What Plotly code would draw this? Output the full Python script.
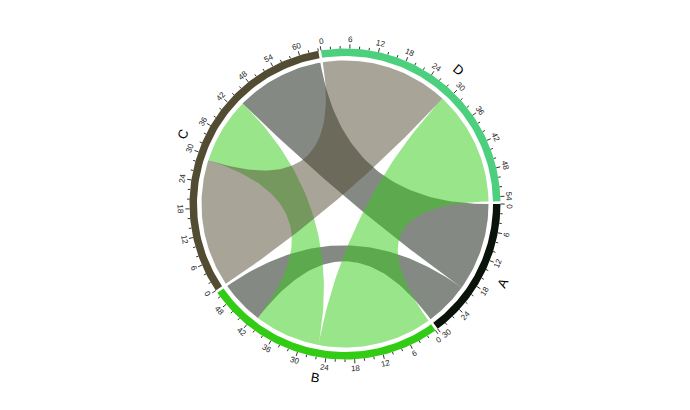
import numpy as np
import plotly.graph_objects as go

# ---- data ----
sectors = ["A", "B", "C", "D"]
sector_colors = ["#0a130a", "#33cc15", "#524c32", "#4dd07e"]
link_from = ["A", "A", "B", "B", "C"]
link_to = ["B", "C", "C", "D", "D"]
link_value = [10, 20, 15, 26, 29]
major_step = 6
minor_step = 2

# ---- layout constants ----
W, H = 690, 410
cx, cy = 345.0, 204.0
r_out, r_in, r_link = 155.5, 148.0, 143.5
gap_deg = 1.0
start_deg = 0.0
tick_font = 8
r_lab = 164.5

n = len(sectors)
idx = {s: i for i, s in enumerate(sectors)}
mat = np.zeros((n, n))
for f, t, v in zip(link_from, link_to, link_value):
    mat[idx[f], idx[t]] += v
    mat[idx[t], idx[f]] += v
totals = mat.sum(axis=1)
deg_per_unit = (360.0 - gap_deg * n) / totals.sum()

sec_start = []
a = start_deg
for i in range(n):
    sec_start.append(a)
    a += totals[i] * deg_per_unit + gap_deg


def pt(theta, r):
    t = np.radians(theta)
    return cx + r * np.cos(t), cy + r * np.sin(t)


def arc(t0, t1, r, k=40):
    ts = np.linspace(t0, t1, k)
    return [pt(t, r) for t in ts]


def bez(p0, p2, k=60):
    c = (cx, cy)
    out = []
    for s in np.linspace(0, 1, k):
        x = (1 - s) ** 2 * p0[0] + 2 * (1 - s) * s * c[0] + s ** 2 * p2[0]
        y = (1 - s) ** 2 * p0[1] + 2 * (1 - s) * s * c[1] + s ** 2 * p2[1]
        out.append((x, y))
    return out


# position of each link end inside sectors: partners in reverse sector order
pos = {}
for i in range(n):
    a = sec_start[i]
    for j in range(n - 1, -1, -1):
        if j == i or mat[i, j] == 0:
            continue
        w = mat[i, j] * deg_per_unit
        pos[(i, j)] = (a, a + w)
        a += w

fig = go.Figure()


def hex_rgba(h, alpha):
    h = h.lstrip("#")
    return "rgba(%d,%d,%d,%.2f)" % (int(h[0:2], 16), int(h[2:4], 16), int(h[4:6], 16), alpha)


# ribbons (drawn in row order)
for f, t, v in zip(link_from, link_to, link_value):
    i, j = idx[f], idx[t]
    s0, s1 = pos[(i, j)]
    t0, t1 = pos[(j, i)]
    pts = arc(s0, s1, r_link) + bez(pt(s1, r_link), pt(t0, r_link)) + \
        arc(t0, t1, r_link) + bez(pt(t1, r_link), pt(s0, r_link))
    xs = [p[0] for p in pts]
    ys = [p[1] for p in pts]
    fig.add_trace(go.Scatter(x=xs, y=ys, mode="lines", fill="toself",
                             fillcolor=hex_rgba(sector_colors[i], 0.5),
                             line=dict(width=0), hoverinfo="skip", showlegend=False))

# sector arcs
for i in range(n):
    a0 = sec_start[i]
    a1 = a0 + totals[i] * deg_per_unit
    pts = arc(a0, a1, r_out, 80) + arc(a1, a0, r_in, 80)
    fig.add_trace(go.Scatter(x=[p[0] for p in pts], y=[p[1] for p in pts], mode="lines",
                             fill="toself", fillcolor=sector_colors[i],
                             line=dict(width=0), hoverinfo="skip", showlegend=False))

# ticks
tx, ty = [], []
annotations = []


def nice_angle(theta):
    th = theta % 360
    if th < 180:
        return th - 90
    return th + 90 - 360


for i in range(n):
    span = totals[i] * deg_per_unit
    for u in range(0, int(totals[i]) + 1, minor_step):
        th = sec_start[i] + u * deg_per_unit
        major = (u % major_step == 0)
        p0 = pt(th, r_out)
        p1 = pt(th, r_out + (4.2 if major else 2.5))
        tx += [p0[0], p1[0], None]
        ty += [p0[1], p1[1], None]
        if major:
            lab = str(u)
            half_deg = np.degrees(0.56 * tick_font * len(lab) / 2 / r_lab)
            off = u * deg_per_unit
            # keep edge labels inside their sector
            if off - half_deg < 0:
                off = half_deg
            if off + half_deg > span:
                off = span - half_deg
            th_l = sec_start[i] + off
            lp = pt(th_l, r_lab)
            annotations.append(dict(x=lp[0], y=lp[1], text=lab, showarrow=False,
                                    textangle=nice_angle(th_l), xanchor="center", yanchor="middle",
                                    font=dict(size=tick_font, color="#222222",
                                              family="Liberation Sans, Arial")))
    mid = sec_start[i] + span / 2
    lp = pt(mid, 176)
    annotations.append(dict(x=lp[0], y=lp[1], text=sectors[i], showarrow=False,
                            textangle=nice_angle(mid), xanchor="center", yanchor="middle",
                            font=dict(size=13, color="#000000", family="Liberation Sans, Arial")))

fig.add_trace(go.Scatter(x=tx, y=ty, mode="lines", line=dict(color="#000000", width=0.8),
                         hoverinfo="skip", showlegend=False))

fig.update_layout(width=W, height=H, margin=dict(l=0, r=0, t=0, b=0),
                  paper_bgcolor="white", plot_bgcolor="white",
                  xaxis=dict(range=[0, W], visible=False, fixedrange=True),
                  yaxis=dict(range=[H, 0], visible=False, fixedrange=True),
                  annotations=annotations, showlegend=False)

fig.write_html("out.html")
